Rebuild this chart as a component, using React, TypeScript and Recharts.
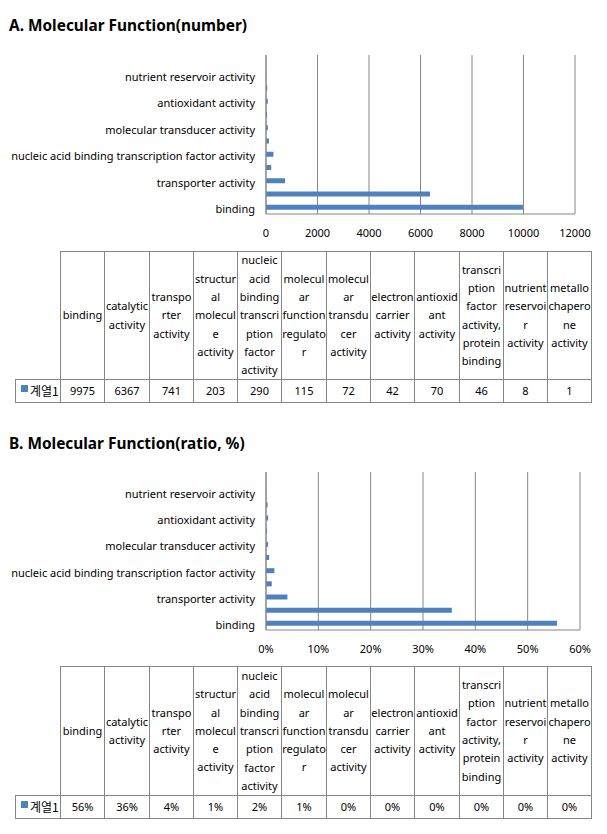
import React from 'react';
import { BarChart, Bar, XAxis, YAxis, CartesianGrid } from 'recharts';

const categories = [
  'binding',
  'catalytic activity',
  'transporter activity',
  'structural molecule activity',
  'nucleic acid binding transcription factor activity',
  'molecular function regulator',
  'molecular transducer activity',
  'electron carrier activity',
  'antioxidant activity',
  'transcription factor activity, protein binding',
  'nutrient reservoir activity',
  'metallochaperone activity',
];
const counts = [9975, 6367, 741, 203, 290, 115, 72, 42, 70, 46, 8, 1];
const ratios = [55.6, 35.5, 4.1, 1.1, 1.6, 0.6, 0.4, 0.2, 0.4, 0.3, 0.04, 0.01];
const ratioLabels = ['56%', '36%', '4%', '1%', '2%', '1%', '0%', '0%', '0%', '0%', '0%', '0%'];
const countTicks = [0, 2000, 4000, 6000, 8000, 10000, 12000];
const ratioTicks = [0, 10, 20, 30, 40, 50, 60];
const headerLines = [
  ['binding'],
  ['catalytic', 'activity'],
  ['transpo', 'rter', 'activity'],
  ['structur', 'al', 'molecul', 'e', 'activity'],
  ['nucleic', 'acid', 'binding', 'transcri', 'ption', 'factor', 'activity'],
  ['molecul', 'ar', 'function', 'regulato', 'r'],
  ['molecul', 'ar', 'transdu', 'cer', 'activity'],
  ['electron', 'carrier', 'activity'],
  ['antioxid', 'ant', 'activity'],
  ['transcri', 'ption', 'factor', 'activity,', 'protein', 'binding'],
  ['nutrient', 'reservoi', 'r', 'activity'],
  ['metallo', 'chapero', 'ne', 'activity'],
];
const seriesName = '계열1';

const FONT = '"Noto Sans", "Noto Sans CJK KR", sans-serif';
const KFONT = '"Noto Sans CJK KR", "Noto Sans", sans-serif';
const FS = 11;
const GRID = '#868686';
const BAR = '#4F81BD';

const countData = categories.map((name, i) => ({ name, value: counts[i] }));
const ratioData = categories.map((name, i) => ({ name, value: ratios[i] }));

const CatTick = (props: any) => {
  const { x, y, payload } = props;
  return (
    <text x={x} y={y + 2} dy="0.355em" textAnchor="end" fontSize={FS} fontFamily={FONT} fill="#000">
      {payload.value}
    </text>
  );
};

function MFChart(props: {
  data: any[];
  top: number;
  max: number;
  ticks: number[];
  fmt: (v: number) => string;
  right: number;
  plotH: number;
}) {
  const { data, top, max, ticks, fmt, right, plotH } = props;
  return (
    <div style={{ position: 'absolute', left: 0, top }}>
      <BarChart
        width={607}
        height={15 + plotH + 30}
        data={data}
        layout="vertical"
        margin={{ top: 15, right, bottom: 0, left: 0 }}
        barSize={5}
      >
        <CartesianGrid horizontal={false} stroke={GRID} />
        <XAxis
          type="number"
          domain={[0, max]}
          ticks={ticks}
          interval={0}
          tickFormatter={fmt}
          axisLine={{ stroke: GRID }}
          tickLine={false}
          tickSize={6}
          tickMargin={9}
          height={30}
          tick={{ fill: '#000', fontSize: FS, fontFamily: FONT }}
        />
        <YAxis
          type="category"
          dataKey="name"
          reversed
          width={266}
          interval={1}
          axisLine={{ stroke: GRID }}
          tickLine={false}
          tickSize={6}
          tickMargin={5}
          tick={<CatTick />}
        />
        <Bar dataKey="value" fill={BAR} isAnimationActive={false} />
      </BarChart>
    </div>
  );
}

function DataTable(props: { top: number; sep: number; bottom: number; values: string[] }) {
  const { top, sep, bottom, values } = props;
  const x0 = 15;
  const x1 = 60;
  const colW = 44.28;
  const xs = Array.from({ length: 13 }, (_, j) => Math.round(x1 + j * colW));
  const cellBase: React.CSSProperties = {
    position: 'absolute',
    boxSizing: 'border-box',
    border: `1px solid ${GRID}`,
    fontFamily: FONT,
    fontSize: FS,
    color: '#000',
    display: 'flex',
    flexDirection: 'column',
    alignItems: 'center',
    justifyContent: 'center',
    whiteSpace: 'nowrap',
    overflow: 'visible',
  };
  return (
    <>
      {headerLines.map((lines, i) => (
        <div
          key={'h' + i}
          style={{ ...cellBase, left: xs[i], top, width: xs[i + 1] - xs[i] + 1, height: sep - top + 1 }}
        >
          {lines.map((l, k) => (
            <div key={k} style={{ lineHeight: '18.33px', textAlign: 'center' }}>
              {l}
            </div>
          ))}
        </div>
      ))}
      <div
        style={{
          ...cellBase,
          left: x0,
          top: sep,
          width: x1 - x0 + 1,
          height: bottom - sep + 1,
          flexDirection: 'row',
          justifyContent: 'flex-start',
          alignItems: 'center',
        }}
      >
        <span style={{ display: 'inline-block', width: 7, height: 7, background: BAR, marginLeft: 5, marginRight: 2, marginTop: -6 }} />
        <span style={{ lineHeight: '14px', fontFamily: KFONT, fontSize: 12 }}>{seriesName}</span>
      </div>
      {values.map((v, i) => (
        <div
          key={'v' + i}
          style={{ ...cellBase, left: xs[i], top: sep, width: xs[i + 1] - xs[i] + 1, height: bottom - sep + 1 }}
        >
          <div style={{ lineHeight: '14px' }}>{v}</div>
        </div>
      ))}
    </>
  );
}

const titleStyle: React.CSSProperties = {
  position: 'absolute',
  left: 9,
  fontFamily: FONT,
  fontWeight: 'bold',
  fontSize: 15.4,
  lineHeight: '16px',
  color: '#000',
  whiteSpace: 'nowrap',
};

export default function App() {
  return (
    <div style={{ position: 'relative', width: 607, height: 834, background: '#fff', overflow: 'hidden' }}>
      <style>{`body{margin:0;}`}</style>
      <div style={{ ...titleStyle, top: 18 }}>A. Molecular Function(number)</div>
      <MFChart
        data={countData}
        top={40}
        max={12000}
        ticks={countTicks}
        fmt={(v) => String(v)}
        right={32}
        plotH={159}
      />
      <DataTable top={251} sep={379} bottom={402} values={counts.map(String)} />

      <div style={{ ...titleStyle, top: 436 }}>B. Molecular Function(ratio, %)</div>
      <MFChart
        data={ratioData}
        top={457}
        max={60}
        ticks={ratioTicks}
        fmt={(v) => `${v}%`}
        right={27}
        plotH={158}
      />
      <DataTable top={666} sep={795} bottom={818} values={ratioLabels} />
    </div>
  );
}
